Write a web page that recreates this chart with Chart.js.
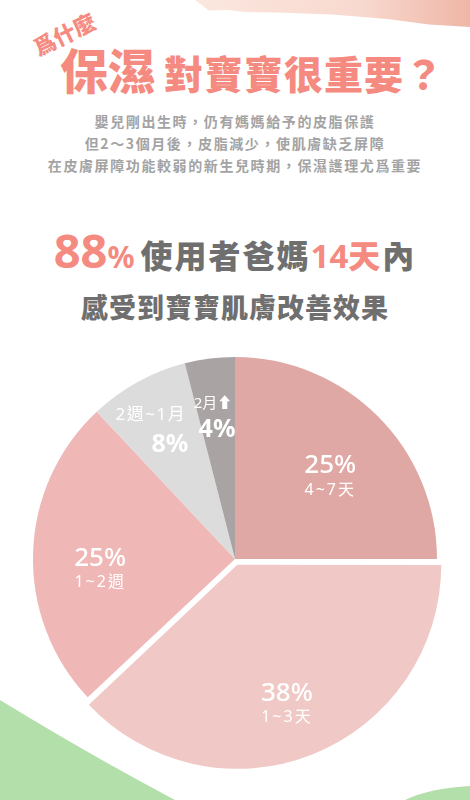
<!DOCTYPE html>
<html>
<head>
<meta charset="utf-8">
<script src="https://cdn.jsdelivr.net/npm/chart.js@4/dist/chart.umd.min.js"></script>
<style>
    html, body { margin: 0; padding: 0; }
    body {
        width: 470px;
        height: 800px;
        position: relative;
        overflow: hidden;
        background: #ffffff;
        font-family: 'Noto Sans', 'Noto Sans CJK TC', sans-serif;
    }
    .skin {
        position: absolute;
        left: 195px; top: 0; width: 275px; height: 30px;
        background: linear-gradient(90deg, #fbe7df 0%, #f8d9cf 60%, #efb6a6 100%);
        clip-path: polygon(0 0, 100% 0, 100% 90%, 85% 82%, 70% 63%, 50% 48%, 30% 42%, 18% 40%, 12% 33%, 5% 35%);
    }
    .why {
        position: absolute;
        left: 30px; top: 22px;
        width: 68px; height: 23px;
        text-align: center;
        font-family: 'Noto Sans CJK TC', sans-serif;
        font-weight: 900;
        font-size: 22px;
        color: #f58a80;
        transform: rotate(-26deg);
        transform-origin: center center;
        line-height: 23px;
        white-space: nowrap;
    }
    .title {
        position: absolute;
        left: 60px; top: 44px;
        display: flex;
        align-items: baseline;
        font-family: 'Noto Sans CJK TC', sans-serif;
        font-weight: 900;
        color: #f58a80;
        line-height: 1;
        white-space: nowrap;
    }
    .title .big { font-size: 48px; }
    .title .mid { font-size: 39px; letter-spacing: 1px; margin-left: 8px; }
    .intro {
        position: absolute;
        left: 0; width: 470px; top: 110px;
        text-align: center;
        font-family: 'Noto Sans CJK TC', sans-serif;
        font-weight: 700;
        font-size: 14px;
        line-height: 22px;
        letter-spacing: 1.6px;
        color: #a3a3a3;
    }
    .head1 {
        position: absolute;
        left: 0; width: 470px; top: 227px;
        text-align: center;
        font-family: 'Noto Sans CJK TC', sans-serif;
        font-weight: 900;
        color: #6f6f6f;
        line-height: 1;
        white-space: nowrap;
    }
    .head1 .pink { color: #f58a80; }
    .head1 .n88 { font-size: 47px; font-family: 'Noto Sans', sans-serif; font-weight: 700; }
    .head1 .pc { font-size: 30px; font-family: 'Noto Sans', sans-serif; font-weight: 700; margin-right: 6px; }
    .head1 .w { font-size: 32px; letter-spacing: 2px; }
    .head1 .n14 { font-size: 33px; font-family: 'Noto Sans', sans-serif; font-weight: 700; }
    .head2 {
        position: absolute;
        left: 0; width: 470px; top: 293px;
        text-align: center;
        font-family: 'Noto Sans CJK TC', sans-serif;
        font-weight: 900;
        font-size: 27px;
        letter-spacing: 1px;
        color: #6f6f6f;
        line-height: 1;
    }
    .green { position: absolute; left: 0; top: 0; }
    #pieWrap { position: absolute; left: 0; top: 339px; width: 470px; height: 440px; }
</style>
</head>
<body>
<div class="skin"></div>
<svg class="green" width="470" height="800">
    <path d="M0,700 Q90,755 175,800 L0,800 Z" fill="#b3dfaa"/>
    <path d="M405,800 Q430,788 470,786 L470,800 Z" fill="#b3dfaa"/>
</svg>
<div class="why">爲什麼</div>
<div class="title"><span class="big">保濕</span><span class="mid">對寶寶很重要？</span></div>
<div class="intro">
    嬰兒剛出生時，仍有媽媽給予的皮脂保護<br>
    但2～3個月後，皮脂減少，使肌膚缺乏屏障<br>
    在皮膚屏障功能較弱的新生兒時期，保濕護理尤爲重要
</div>
<div class="head1"><span class="pink n88">88</span><span class="pink pc">%</span><span class="w">使用者爸媽</span><span class="pink n14">14</span><span class="pink w">天</span><span class="w">內</span></div>
<div class="head2">感受到寶寶肌膚改善效果</div>
<div id="pieWrap"><canvas id="pieChart" width="470" height="440"></canvas></div>

<script>
// Data (clockwise from 12 o'clock)
const categories = ['4~7天', '1~3天', '1~2週', '2週~1月', '2月⬆'];
const percentages = [25, 38, 25, 8, 4];

// Styling
const sliceColors = ['#e0a8a5', '#f0c9c6', '#f0b7b7', '#dcdcdc', '#aaa3a3'];
// chart.js v4 only moves a slice by about a third of its offset
const sliceOffsets = [0, 25, 0, 0, 0];

// Label placement per slice: angle nudge (deg), radial reach, line specs
// line: [kind, size, weight, dx, dy, spacing]
const labelLayout = [
    { turn: 4.5, reach: 0.62, lines: [['pct', 26, 500, 0, -12, 0], ['cat', 16, 400, 0, 13, 2]] },
    { turn: 2.1, reach: 0.77, lines: [['pct', 26, 500, 0, -12, 0], ['cat', 16, 400, 0, 12, 2]] },
    { turn: -6.7, reach: 0.67, lines: [['pct', 26, 500, 0, -12, 0], ['cat', 16, 400, 0, 12, 2]] },
    { turn: -1.4, reach: 0.74, lines: [['cat', 17, 400, -9, -15, 1.5], ['pct', 25, 700, 10, 15, 0]] },
    { turn: 0, reach: 0.71, lines: [['cat', 15, 400, -4, -13, 0], ['pct', 25, 700, 0, 13, 0]] }
];

const sliceLabels = {
    id: 'sliceLabels',
    afterDatasetsDraw(chart) {
        const ctx = chart.ctx;
        const meta = chart.getDatasetMeta(0);
        meta.data.forEach((arc, i) => {
            const p = arc.getProps(['x', 'y', 'startAngle', 'endAngle', 'outerRadius'], true);
            const layout = labelLayout[i];
            const mid = (p.startAngle + p.endAngle) / 2 + layout.turn * Math.PI / 180;
            const cx = p.x + Math.cos(mid) * p.outerRadius * layout.reach;
            const cy = p.y + Math.sin(mid) * p.outerRadius * layout.reach;
            ctx.save();
            ctx.fillStyle = '#ffffff';
            ctx.textAlign = 'center';
            ctx.textBaseline = 'middle';
            layout.lines.forEach(line => {
                const [kind, size, weight, dx, dy, spacing] = line;
                const text = kind === 'pct' ? percentages[i] + '%' : categories[i];
                ctx.font = `${weight} ${size}px 'Noto Sans', 'Noto Sans CJK TC', sans-serif`;
                ctx.letterSpacing = spacing + 'px';
                ctx.fillText(text, cx + dx, cy + dy);
            });
            ctx.restore();
        });
    }
};

new Chart(document.getElementById('pieChart'), {
    type: 'pie',
    data: {
        labels: categories,
        datasets: [{
            data: percentages,
            backgroundColor: sliceColors,
            offset: sliceOffsets,
            borderWidth: 0
        }]
    },
    options: {
        responsive: false,
        animation: false,
        radius: 202,
        layout: { padding: 0 },
        plugins: {
            legend: { display: false },
            tooltip: { enabled: false }
        }
    },
    plugins: [sliceLabels]
});
</script>
</body>
</html>
